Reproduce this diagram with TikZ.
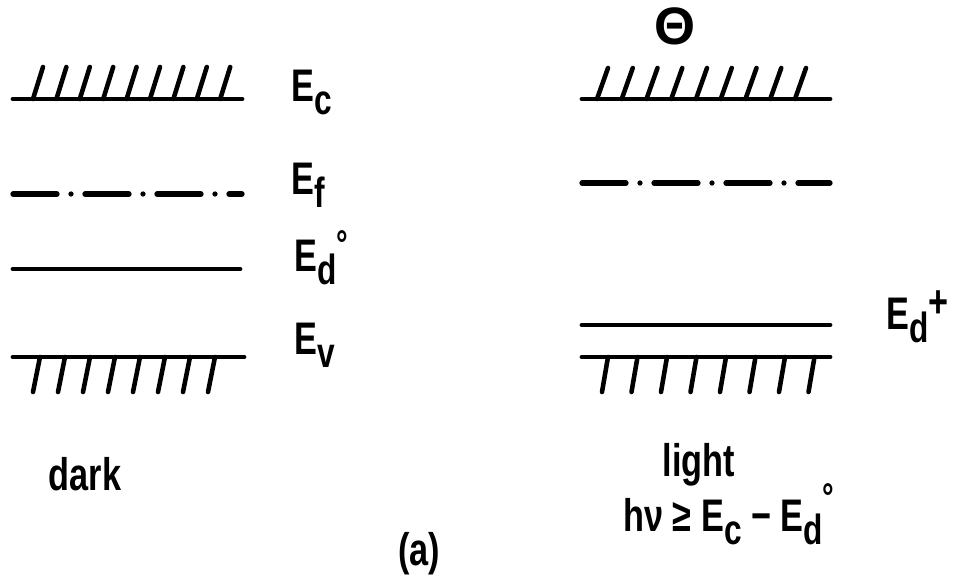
\documentclass[tikz,border=0pt]{standalone}
\usepackage{fontspec}
\setmainfont{Liberation Sans}[FakeStretch=0.75]
\newfontfamily\roundfont{Liberation Sans}
\usetikzlibrary{positioning}
\tikzset{every picture/.style={line width=0.75pt}}
\tikzset{
  level/.style={line width=1.4pt, line cap=round},
  hatch/.style={line width=1.3pt, line cap=round},
  fermi/.style={line width=1.5pt, line cap=round, dash pattern=on 0.44cm off 0.14cm on 0pt off 0.14cm},
  lab/.style={font=\bfseries\fontsize{13}{15}\selectfont, inner sep=0pt, anchor=base west},
  captext/.style={font=\bfseries\fontsize{13}{15}\selectfont, inner sep=0pt, anchor=base}
}
\newcommand\lo[1]{\raisebox{-3.5pt}{\fontsize{12}{12}\selectfont #1}}
\newcommand\hi[2][4pt]{\raisebox{#1}{\fontsize{11}{11}\selectfont #2}}

\begin{document}
\begin{tikzpicture}
    \useasboundingbox (0,0) rectangle (9.61,5.83);

    % 暗态能级
    \draw[level] (0.13,4.84) -- (2.42,4.84);
    \foreach \i in {0,...,8}
        \draw[hatch] ({0.33+0.234*\i},4.84) -- ++(0.10,0.32);
    \draw[fermi] (0.13,3.89) -- (2.42,3.89);
    \draw[level] (0.13,3.14) -- (2.40,3.14);
    \draw[level] (0.13,2.26) -- (2.44,2.26);
    \foreach \i in {0,...,7}
        \draw[hatch] ({0.40+0.25*\i},2.26) -- ++(-0.07,-0.35);

    % 能级标注
    \node[lab] (Ec) at (2.90,4.81) {E\lo{c}};
    \node[lab] (Ef) at (2.90,3.88) {E\lo{f}};
    \node[lab] (Ed0) at (2.93,3.11) {E\lo{d}\hi{°}};
    \node[lab] (Ev) at (2.93,2.28) {E\lo{v}};

    % 光照态能级
    \node[captext, font=\roundfont\bfseries\fontsize{15}{17}\selectfont] (elec) at (6.75,5.38) {Θ};
    \draw[level] (5.82,4.84) -- (8.30,4.84);
    \foreach \i in {0,...,8}
        \draw[hatch] ({5.97+0.2475*\i},4.84) -- ++(0.11,0.31);
    \draw[fermi] (5.82,4.00) -- (8.30,4.00);
    \draw[level] (5.82,2.58) -- (8.30,2.58);
    \draw[level] (5.82,2.26) -- (8.30,2.26);
    \foreach \i in {0,...,7}
        \draw[hatch] ({6.08+0.295*\i},2.26) -- ++(-0.06,-0.35);
    \node[lab] (Edp) at (8.85,2.53) {E\lo{d}\hi[3.5pt]{\fontsize{13}{13}\selectfont +}};

    % 说明文字
    \node[captext] (dark) at (0.85,0.93) {dark};
    \node[captext] (light) at (6.99,1.06) {light};
    \node[lab] (cond) at (6.22,0.51) {hν ≥ E\lo{c} − E\lo{d}\hi[6pt]{°}};
    \node[captext] (fig) at (4.19,0.18) {(a)};
\end{tikzpicture}
\end{document}
